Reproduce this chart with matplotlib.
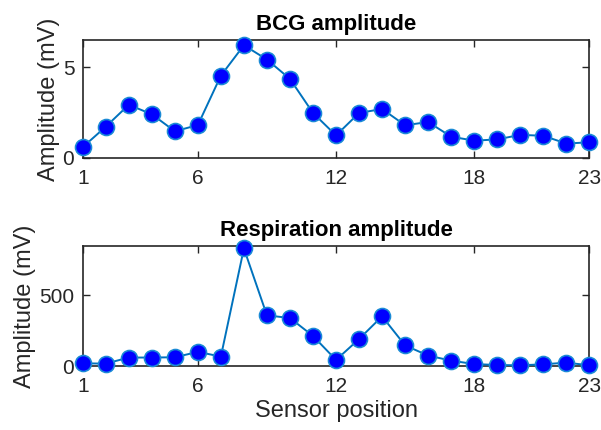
import numpy as np
import matplotlib
matplotlib.use('Agg')
import matplotlib.pyplot as plt

plt.rcParams['font.family'] = ['Liberation Sans', 'DejaVu Sans']

# sensor positions and the two amplitude series
sensor = list(range(1, 24))
bcg_amp = [0.58, 1.71, 2.92, 2.40, 1.46, 1.80, 4.53, 6.21, 5.42, 4.35, 2.47, 1.23,
           2.47, 2.69, 1.79, 1.97, 1.16, 0.94, 1.01, 1.26, 1.21, 0.78, 0.85]
resp_amp = [19, 17, 60, 60, 62, 100, 67, 833, 359, 340, 213, 43,
            191, 352, 146, 74, 38, 14, 7, 5, 12, 24, 5]
xticks = [1, 6, 12, 18, 23]

fig = plt.figure(figsize=(6.01, 4.30), dpi=100)
ax1 = fig.add_axes([0.1376, 0.6333, 0.843, 0.2737])
ax2 = fig.add_axes([0.1376, 0.1488, 0.843, 0.279])

gray = '#262626'
line_c = '#0072BD'

def style(ax, y, yticks, ylim, title):
    ax.plot(sensor, y, '-o', color=line_c, lw=1.4, ms=11.5,
            markerfacecolor='#0000FF', markeredgecolor='#1a8ad6', markeredgewidth=1.2,
            clip_on=False, zorder=3)
    ax.set_xlim(1, 23)
    ax.set_ylim(*ylim)
    ax.set_xticks(xticks)
    ax.set_yticks(yticks)
    ax.tick_params(direction='in', top=True, right=True, length=5, width=1,
                   colors=gray, labelsize=15)
    ax.tick_params(axis='x', pad=8)
    ax.tick_params(axis='y', pad=6)
    for s in ax.spines.values():
        s.set_color(gray)
        s.set_linewidth(1.2)
    ax.set_ylabel('Amplitude (mV)', fontsize=17, color=gray, labelpad=2)
    ax.set_title(title, fontsize=16, fontweight='bold', color='black', pad=7)

style(ax1, bcg_amp, [0, 5], (0, 6.5), 'BCG amplitude')
style(ax2, resp_amp, [0, 500], (0, 850), 'Respiration amplitude')
ax2.set_xlabel('Sensor position', fontsize=17, color=gray, labelpad=3)

plt.savefig('out.png', dpi=100)
